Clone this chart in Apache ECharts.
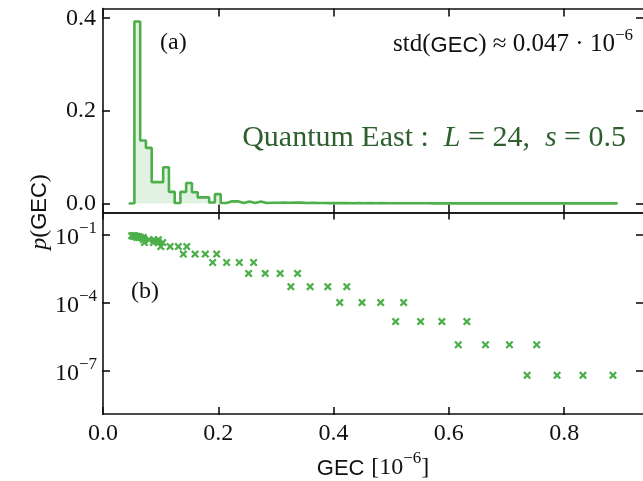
<!DOCTYPE html>
<html>
<head>
<meta charset="utf-8">
<script src="https://cdn.jsdelivr.net/npm/echarts@6/dist/echarts.min.js"></script>
<style>
  html, body { margin: 0; padding: 0; background: #fff; }
  #main { width: 643px; height: 481px; }
</style>
</head>
<body>
<div id="main"></div>
<script>
// ticks
const xTicks = [0, 0.2, 0.4, 0.6, 0.8];
const linTicks = [0, 0.2, 0.4];
const logTicks = [1e-7, 1e-4, 1e-1];

// (a) histogram: bins start at binStart, each binWidth wide
const binStart = 0.0445;
const binWidth = 0.00998;
const histValues = [
  0.0005, 0.393, 0.136, 0.120, 0.046, 0.046, 0.078, 0.025, 0.001, 0.025,
  0.044, 0.024, 0.013, 0.013, 0.002, 0.020, 0.001, 0.0045, 0.0045, 0.001,
  0.004, 0.001, 0.004, 0.001, 0.0015, 0.0015, 0.002, 0.0015, 0.002, 0.0018,
  0.001, 0.0012, 0.0008, 0.001, 0.0007, 0.0009, 0.0006, 0.0008, 0.0005, 0.0007,
  0.0005, 0.0006, 0.0004, 0.0006, 0.0004, 0.0005, 0.0003, 0.0005, 0.0003, 0.0004,
  0.0003, 0.0004, 0.0002, 0.0003, 0.0002, 0.0003, 0.0002, 0.0003, 0.0002, 0.0002,
  0.0001, 0.0001, 0.0001, 0.0001, 0.0001, 0.0001, 0.0001, 0.0001, 0.0001, 0.0001,
  0.0001, 0.0001, 0.0001, 0.0001, 0.0001, 0.0001, 0.0001, 0.0001, 0.0001, 0.0001,
  0.0001, 0.0001, 0.0001, 0.0001, 0.0001
];

// (b) log-scale points
const scatterX = [
  0.0497, 0.0515, 0.0535, 0.0555,
  0.0540, 0.0565, 0.0590, 0.0620,
  0.0590, 0.0625, 0.0660, 0.0700,
  0.0700, 0.0800, 0.0880, 0.0960,
  0.0719, 0.0874, 0.0961, 0.1037,
  0.1003, 0.1164, 0.1307, 0.1453,
  0.1394, 0.1597, 0.1775, 0.1972,
  0.1903, 0.2145, 0.2364, 0.2613,
  0.2526, 0.2814, 0.3074, 0.3375,
  0.3259, 0.3593, 0.3900, 0.4229,
  0.4107, 0.4494, 0.4817, 0.5216,
  0.5077, 0.5510, 0.5879, 0.6312,
  0.6163, 0.6636, 0.7051, 0.7524,
  0.7358, 0.7877, 0.8327, 0.8847
];
const scatterY = [
  0.0912, 0.0912, 0.0912, 0.0912,
  0.0851, 0.0851, 0.0851, 0.0851,
  0.0759, 0.0759, 0.0759, 0.0759,
  0.0617, 0.0617, 0.0617, 0.0617,
  0.0459, 0.0459, 0.0459, 0.0459,
  0.0306, 0.0306, 0.0306, 0.0306,
  0.0142, 0.0142, 0.0142, 0.0142,
  0.00607, 0.00607, 0.00607, 0.00607,
  0.00200, 0.00200, 0.00200, 0.00200,
  5.2e-4, 5.2e-4, 5.2e-4, 5.2e-4,
  1.03e-4, 1.03e-4, 1.03e-4, 1.03e-4,
  1.51e-5, 1.51e-5, 1.51e-5, 1.51e-5,
  1.43e-6, 1.43e-6, 1.43e-6, 1.43e-6,
  6.4e-8, 6.4e-8, 6.4e-8, 6.4e-8
];

const green = '#4daf4a';
const darkGreen = '#2e5f2e';
const serif = 'Liberation Serif';
const sans = 'Liberation Sans';
const ink = '#111';

// step outline points for the histogram
const histPoints = [[binStart, 0]];
for (let i = 0; i < histValues.length; i++) {
  histPoints.push([binStart + i * binWidth, histValues[i]]);
}
histPoints.push([binStart + histValues.length * binWidth, 0]);

const scatterData = scatterX.map((x, i) => [x, scatterY[i]]);

const GRID_W = 541;
const H_TOP = 204;
const H_BOT = 202.5;
const X_MAX = 0.9368;
const LIN = { type: 'value', min: -0.0196, max: 0.421 };
const LOG = { type: 'log', logBase: 10, min: 1.26e-9, max: 0.972 };
const lineStyle = { color: ink, width: 1.6 };

// inward ticks: tick-only axes moved to the opposite side of the grid,
// so their outward ticks point into the plot
function tickOnly(values) {
  return { show: true, length: 8, customValues: values, lineStyle: { color: ink, width: 1.6 } };
}
function xTickAxis(grid, pos, height) {
  return {
    type: 'value', gridIndex: grid, position: pos, offset: -height, min: 0, max: X_MAX,
    axisLine: { show: false, onZero: false }, axisTick: tickOnly(xTicks),
    axisLabel: { show: false }, splitLine: { show: false }
  };
}
function yTickAxis(grid, pos, scale, values) {
  return Object.assign({}, scale, {
    gridIndex: grid, position: pos, offset: -GRID_W,
    axisLine: { show: false, onZero: false }, axisTick: tickOnly(values), minorTick: { show: false },
    axisLabel: { show: false }, splitLine: { show: false }
  });
}

function xAxisDef(grid, pos, labels) {
  return {
    type: 'value', gridIndex: grid, position: pos, min: 0, max: X_MAX,
    axisLine: { show: true, onZero: false, lineStyle: lineStyle },
    axisTick: { show: false },
    axisLabel: labels ? {
      show: true, customValues: xTicks, margin: 8,
      fontFamily: serif, fontSize: 24, color: ink,
      formatter: v => v.toFixed(1)
    } : { show: false },
    splitLine: { show: false }
  };
}

const logLabel = v => '{b|10}{e|\u2212' + Math.round(-Math.log10(v)) + '}';
const supRich = {
  b: { fontFamily: serif, fontSize: 24, lineHeight: 30, verticalAlign: 'bottom', color: ink },
  e: { fontFamily: serif, fontSize: 17, lineHeight: 17, verticalAlign: 'top', color: ink }
};

const xAxes = [
  xAxisDef(0, 'bottom', false),
  xAxisDef(0, 'top', false),
  xAxisDef(1, 'top', false),
  Object.assign(xAxisDef(1, 'bottom', true), {
    name: '{g|GEC}  {b|[10}{e|\u22126}{b|]}',
    nameLocation: 'middle',
    nameGap: 36,
    nameTextStyle: {
      rich: Object.assign({ g: { fontFamily: sans, fontSize: 22, lineHeight: 30, verticalAlign: 'bottom', color: ink } }, supRich)
    }
  }),
  xTickAxis(0, 'top', H_TOP),
  xTickAxis(0, 'bottom', H_TOP),
  xTickAxis(1, 'top', H_BOT),
  xTickAxis(1, 'bottom', H_BOT)
];

// the right spine sits just past the picture's edge, so it is not drawn
const yAxes = [
  Object.assign({}, LIN, {
    gridIndex: 0, position: 'left',
    axisLine: { show: true, onZero: false, lineStyle: lineStyle }, axisTick: { show: false },
    axisLabel: { show: true, customValues: linTicks, margin: 7, fontFamily: serif, fontSize: 24, color: ink, formatter: v => v.toFixed(1) },
    splitLine: { show: false }
  }),
  Object.assign({}, LIN, {
    gridIndex: 0, position: 'right',
    axisLine: { show: false, onZero: false }, axisTick: { show: false },
    axisLabel: { show: false }, splitLine: { show: false }
  }),
  Object.assign({}, LOG, {
    gridIndex: 1, position: 'left',
    axisLine: { show: true, onZero: false, lineStyle: lineStyle }, axisTick: { show: false }, minorTick: { show: false },
    axisLabel: { show: true, customValues: logTicks, margin: 6, formatter: logLabel, rich: supRich },
    splitLine: { show: false }
  }),
  Object.assign({}, LOG, {
    gridIndex: 1, position: 'right',
    axisLine: { show: false, onZero: false }, axisTick: { show: false }, minorTick: { show: false },
    axisLabel: { show: false }, splitLine: { show: false }
  }),
  yTickAxis(0, 'right', LIN, linTicks),
  yTickAxis(0, 'left', LIN, linTicks),
  yTickAxis(1, 'right', LOG, logTicks),
  yTickAxis(1, 'left', LOG, logTicks)
];

const chart = echarts.init(document.getElementById('main'));
chart.setOption({
  animation: false,
  backgroundColor: '#fff',
  grid: [
    { left: 103, top: 8.5, width: GRID_W, height: H_TOP },
    { left: 103, top: 8.5 + H_TOP, width: GRID_W, height: H_BOT }
  ],
  xAxis: xAxes,
  yAxis: yAxes,
  graphic: [
    { type: 'text', x: 160, y: 43, style: { text: '(a)', fontFamily: serif, fontSize: 24, fill: ink, verticalAlign: 'middle' } },
    { type: 'text', x: 131, y: 292, style: { text: '(b)', fontFamily: serif, fontSize: 24, fill: ink, verticalAlign: 'middle' } },
    {
      type: 'text', x: 633, y: 42,
      style: {
        text: '{r|std(}{g|GEC}{r|) \u2248 0.047 \u00b7 10}{e|\u22126}',
        align: 'right', verticalAlign: 'middle',
        rich: {
          r: { fontFamily: serif, fontSize: 25, lineHeight: 30, verticalAlign: 'bottom', fill: ink },
          g: { fontFamily: sans, fontSize: 22, lineHeight: 30, verticalAlign: 'bottom', fill: ink },
          e: { fontFamily: serif, fontSize: 17, lineHeight: 17, verticalAlign: 'top', fill: ink }
        }
      }
    },
    {
      type: 'text', x: 626, y: 138,
      style: {
        text: '{r|Quantum East :  }{i|L}{r| = 24,  }{i|s}{r| = 0.5}',
        align: 'right', verticalAlign: 'middle',
        rich: {
          r: { fontFamily: serif, fontSize: 30, fill: darkGreen },
          i: { fontFamily: serif, fontStyle: 'italic', fontSize: 30, fill: darkGreen }
        }
      }
    },
    {
      type: 'text', x: 40, y: 212, rotation: Math.PI / 2,
      style: {
        text: '{i|p}{r|(}{g|GEC}{r|)}',
        align: 'center', verticalAlign: 'middle',
        rich: {
          i: { fontFamily: serif, fontStyle: 'italic', fontSize: 24, fill: ink },
          r: { fontFamily: serif, fontSize: 24, fill: ink },
          g: { fontFamily: sans, fontSize: 22, fill: ink }
        }
      }
    }
  ],
  series: [
    {
      name: 'histogram',
      type: 'line',
      xAxisIndex: 0, yAxisIndex: 0,
      step: 'end',
      showSymbol: false,
      data: histPoints,
      lineStyle: { color: green, width: 2.6 },
      itemStyle: { color: green },
      areaStyle: { color: 'rgba(77,175,74,0.23)' }
    },
    {
      name: 'log',
      type: 'scatter',
      xAxisIndex: 3, yAxisIndex: 2,
      symbol: 'path://M2,0 L5,3 L8,0 L10,2 L7,5 L10,8 L8,10 L5,7 L2,10 L0,8 L3,5 L0,2 Z',
      symbolSize: 8,
      itemStyle: { color: green, opacity: 1 },
      data: scatterData
    }
  ]
});
</script>
</body>
</html>
